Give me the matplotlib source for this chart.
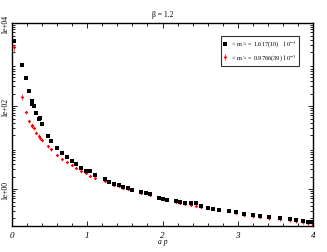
import numpy as np
import matplotlib
matplotlib.use('Agg')
import matplotlib.pyplot as plt
from matplotlib.ticker import MultipleLocator, LogLocator, NullFormatter

plt.rcParams['font.family'] = ['Liberation Serif', 'DejaVu Serif']
plt.rcParams['mathtext.fontset'] = 'stix'

# momenta (a p) shared by both series
ap = [0.02, 0.13, 0.186, 0.226, 0.26, 0.266, 0.297, 0.323, 0.354, 0.377,
      0.394, 0.478, 0.523, 0.60, 0.664, 0.73, 0.79, 0.855, 0.917, 0.983,
      1.036, 1.107, 1.236, 1.293, 1.355, 1.42, 1.475, 1.537, 1.60, 1.71,
      1.776, 1.838, 1.95, 2.0, 2.06, 2.175, 2.23, 2.30, 2.38, 2.45,
      2.51, 2.60, 2.67, 2.75, 2.88, 2.98, 3.09, 3.20, 3.30, 3.42,
      3.56, 3.70, 3.78, 3.87, 3.93, 3.99]

black_y = [3600, 950, 480, 228, 135, 110, 100, 70, 48, 51,
           38, 19, 14.5, 9.6, 7.3, 5.8, 4.7, 4.0, 3.2, 2.7,
           2.7, 2.15, 1.74, 1.51, 1.35, 1.23, 1.14, 1.08, 0.97, 0.85,
           0.80, 0.76, 0.62, 0.59, 0.56, 0.52, 0.49, 0.47, 0.46, 0.46,
           0.385, 0.355, 0.34, 0.32, 0.295, 0.28, 0.257, 0.234, 0.224, 0.214,
           0.20, 0.19, 0.182, 0.17, 0.166, 0.162]

red_y = [2600, 170, 71, 43, 35, 33, 29, 23, 19, 17,
         15, 10.7, 9.1, 6.8, 5.4, 4.5, 3.9, 3.3, 2.8, 2.45,
         2.05, 1.9, 1.58, 1.48, 1.29, 1.16, 1.08, 1.02, 0.93, 0.83,
         0.79, 0.72, 0.62, 0.58, 0.55, 0.50, 0.47, 0.45, 0.42, 0.40,
         0.38, 0.35, 0.33, 0.32, 0.29, 0.27, 0.245, 0.224, 0.219, 0.20,
         0.19, 0.182, 0.17, 0.162, 0.155, 0.151]
red_err = [450, 30, 7, 4, 3, 3, 3, 2, 2, 2,
           1.5, 0.8, 0.6, 0.4, 0.3, 0.25, 0.2, 0.15, 0.12, 0.1] + [0.02] * 36

fig = plt.figure(figsize=(3.27, 2.53), dpi=100)
ax = fig.add_axes([0.037, 0.103, 0.92, 0.802])

ax.errorbar(ap, red_y, yerr=red_err, fmt='D', color='red', ms=1.8, mew=0,
            elinewidth=0.5, capsize=1.0, clip_on=False, zorder=2,
            label=r'< m > = 0.9766(39) $10^{-3}$')
ax.errorbar(ap, black_y, fmt='s', color='black', ms=2.2, mew=0,
            elinewidth=0.5, capsize=1.0, clip_on=False, zorder=3,
            label=r'< m > = 1.617(10)   $10^{-3}$')

ax.set_yscale('log')
ax.set_xlim(0, 4)
ax.set_ylim(0.13, 1e4)
ax.xaxis.set_major_locator(MultipleLocator(1))
ax.xaxis.set_minor_locator(MultipleLocator(0.2))
ax.yaxis.set_minor_locator(LogLocator(base=10, subs=np.arange(2, 10)))
ax.yaxis.set_minor_formatter(NullFormatter())
ax.set_yticks([1, 100, 10000])
ax.set_yticklabels(['1e+00', '1e+02', '1e+04'], rotation=90, va='center', fontsize=5.5)
ax.set_xticks([0, 1, 2, 3, 4])
ax.set_xticklabels(['0', '1', '2', '3', '4'], fontsize=6.5, style='italic')
ax.tick_params(which='both', direction='in', top=True, right=True, width=0.6)
ax.tick_params(axis='x', pad=3.5)
ax.tick_params(axis='y', pad=2)
ax.tick_params(which='major', length=3.5)
ax.tick_params(which='minor', length=2)
for s in ax.spines.values():
    s.set_linewidth(1.0)

ax.set_xlabel('a p', fontsize=5.5, style='italic', labelpad=-1)
ax.set_title('β = 1.2', fontsize=5.5, pad=5)

handles, labels = ax.get_legend_handles_labels()
leg = ax.legend(handles[::-1], labels[::-1], loc='upper right',
                bbox_to_anchor=(0.955, 0.935), fontsize=4.6,
                frameon=True, fancybox=False, handlelength=0.6, handletextpad=0.6,
                borderpad=0.45, labelspacing=0.5, borderaxespad=0)
leg.get_frame().set_edgecolor('black')
leg.get_frame().set_linewidth(0.8)

fig.savefig('out.png', dpi=100)
